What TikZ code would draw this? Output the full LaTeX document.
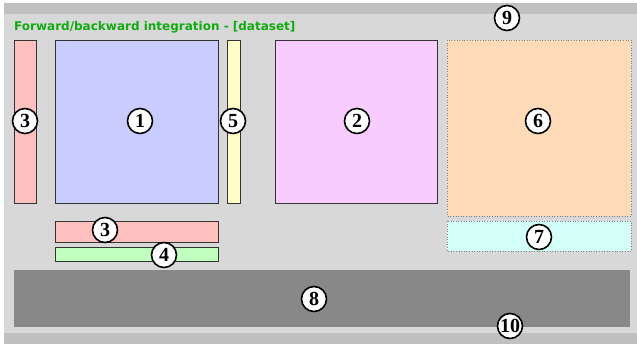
\documentclass[tikz,border=0pt]{standalone}
\usepackage{fontspec}
\newfontfamily\titlefont{DejaVu Sans}
\newfontfamily\numfont{Liberation Serif}
\definecolor{panelgray}{HTML}{D8D8D8}
\definecolor{bargray}{HTML}{C0C0C0}
\definecolor{darkgray}{HTML}{888888}
\definecolor{titlegreen}{HTML}{11AA11}
\definecolor{redbox}{HTML}{FFC0C0}
\definecolor{bluebox}{HTML}{C8CCFF}
\definecolor{yellowbox}{HTML}{FFFFC8}
\definecolor{pinkbox}{HTML}{F8CCFF}
\definecolor{greenbox}{HTML}{C0FFC0}
\definecolor{orangebox}{HTML}{FFDAB8}
\definecolor{cyanbox}{HTML}{D4FFF8}
\tikzset{
    num/.style={circle, draw, line width=1.6pt, fill=white, inner sep=0pt, minimum size=25pt, font=\numfont\bfseries\fontsize{20}{20}\selectfont},
    region/.style={draw=black!80, line width=0.6pt},
    ghost/.style={draw=gray, dotted, line width=0.6pt}
}
\begin{document}
\begin{tikzpicture}[x=1pt, y=-1pt]
        \useasboundingbox (0,0) rectangle (637,347);
        \fill[bargray] (4,3) rectangle (637,14);
        \fill[panelgray] (4,14) rectangle (637,333);
        \fill[bargray] (4,333) rectangle (637,344);
        \node[anchor=base west, inner sep=0pt, text=titlegreen, font=\titlefont\bfseries\fontsize{12}{12}\selectfont] (title) at (14,31) {Forward/backward integration - [dataset]};
        \foreach \xa/\ya/\xb/\yb/\c in {14/40/36/203/redbox,55/40/218/203/bluebox,227/40/240/203/yellowbox,275/40/437/203/pinkbox,55/221/218/242/redbox,55/247/218/261/greenbox}
        {%
            \filldraw[region, fill=\c] (\xa,\ya) rectangle (\xb,\yb);
        }%
        \filldraw[ghost, fill=orangebox] (447,40) rectangle (631,216);
        \filldraw[ghost, fill=cyanbox] (447,221) rectangle (631,251);
        \fill[darkgray] (14,270) rectangle (630,327);
        \foreach \n/\x/\y/\t in {one/140/121/1,two/357/121/2,threev/25/121/3,five/233/121/5,six/538/121/6,threeh/105/230/3,four/164/255/4,seven/539/237/7,eight/314/299/8,nine/507/18/9,ten/510/326/10}
        {%
            \node[num] (c-\n) at (\x,\y) {\t};
        }%
\end{tikzpicture}
\end{document}
